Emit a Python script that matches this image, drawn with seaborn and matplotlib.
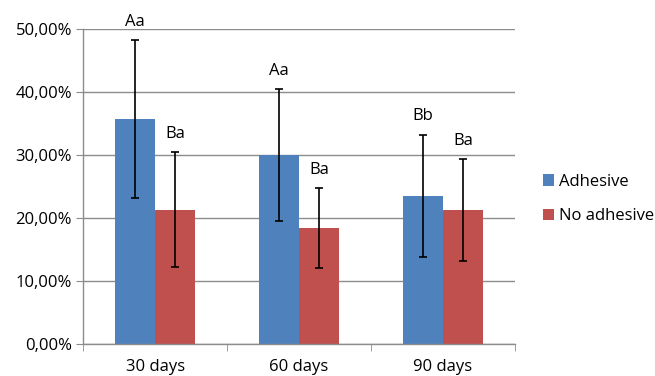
import pandas as pd
import matplotlib.pyplot as plt
from matplotlib.ticker import FuncFormatter, FixedLocator
import seaborn as sns

# Datos
groups = ['30 days', '60 days', '90 days']
series = ['Adhesive', 'No adhesive']
adhesive = [35.7, 30.0, 23.5]
no_adhesive = [21.3, 18.4, 21.3]
adhesive_err = [12.6, 10.5, 9.75]
no_adhesive_err = [9.1, 6.4, 8.1]
adhesive_labels = ['Aa', 'Aa', 'Bb']
no_adhesive_labels = ['Ba', 'Ba', 'Ba']
colors = ['#4F81BD', '#C0504D']

df = pd.DataFrame({
  'group': groups * 2,
  'series': [series[0]] * 3 + [series[1]] * 3,
  'value': adhesive + no_adhesive,
})

sns.set_style("white")
plt.rcParams['font.family'] = ['Open Sans', 'DejaVu Sans']
plt.rcParams['text.color'] = 'black'
plt.rcParams['xtick.color'] = 'black'
plt.rcParams['ytick.color'] = 'black'

fig = plt.figure(figsize=(6.55, 3.76), dpi=100)
ax = fig.add_axes([0.127, 0.085, 0.659, 0.838])

sns.barplot(data=df, x='group', y='value', hue='series', palette=colors,
            width=0.56, errorbar=None, saturation=1, linewidth=0, ax=ax, zorder=2)

errs = [adhesive_err, no_adhesive_err]
labels = [adhesive_labels, no_adhesive_labels]
vals = [adhesive, no_adhesive]
bar_containers = list(ax.containers)
for i, cont in enumerate(bar_containers):
  for j, bar in enumerate(cont.patches):
    cx = bar.get_x() + bar.get_width() / 2
    ax.errorbar(cx, vals[i][j], yerr=errs[i][j], fmt='none', ecolor='black',
                elinewidth=1.2, capsize=3, capthick=1.2, zorder=3)
    ax.text(cx, vals[i][j] + errs[i][j] + 1.6, labels[i][j], ha='center',
            va='bottom', fontsize=12)

ax.set_ylim(0, 50)
ax.set_xlim(-0.5, 2.5)
ax.set_yticks([0, 10, 20, 30, 40, 50])
ax.yaxis.set_major_formatter(FuncFormatter(lambda v, p: f"{v:.2f}%".replace('.', ',')))
ax.yaxis.grid(True, color='#8c8c8c', linewidth=1, zorder=0)
ax.set_axisbelow(True)
ax.xaxis.set_minor_locator(FixedLocator([-0.5, 0.5, 1.5, 2.5]))
ax.tick_params(axis='x', which='major', length=0, labelsize=12, pad=11)
ax.tick_params(axis='x', which='minor', length=5, color='#8c8c8c', bottom=True)
ax.tick_params(axis='y', length=5, color='#8c8c8c', labelcolor='black',
               labelsize=12, left=True, pad=3)
ax.set_xlabel('')
ax.set_ylabel('')

for side in ['top', 'right']:
  ax.spines[side].set_visible(False)
for side in ['left', 'bottom']:
  ax.spines[side].set_color('#8c8c8c')
  ax.spines[side].set_linewidth(1)

ax.legend(loc='center left', bbox_to_anchor=(1.03, 0.46), frameon=False,
          fontsize=12, handlelength=0.7, handleheight=0.7, handletextpad=0.3,
          labelspacing=1.1)

plt.savefig('out.png', dpi=100)
